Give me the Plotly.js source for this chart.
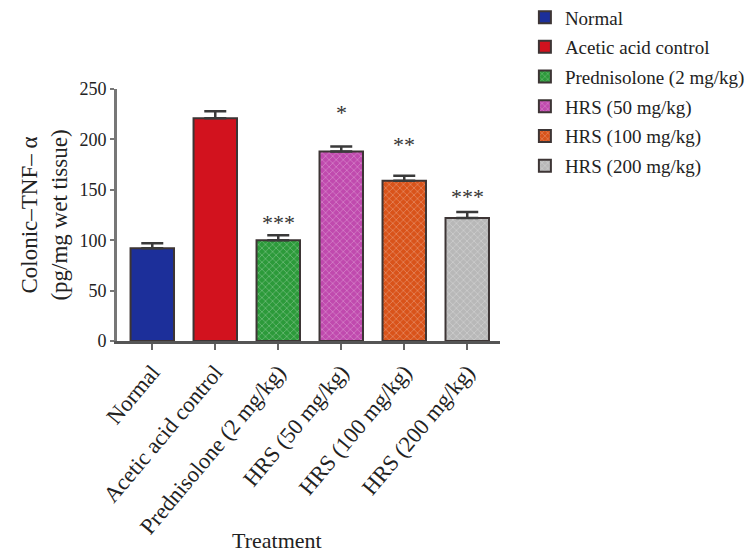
<!DOCTYPE html>
<html>
<head>
<meta charset="utf-8">
<script src="https://cdn.plot.ly/plotly-3.0.1.min.js"></script>
<style>html,body{margin:0;padding:0;background:#fff;}#chart{width:754px;height:557px;}</style>
</head>
<body>
<div id="chart"></div>
<script>
const categories = ["Normal", "Acetic acid control", "Prednisolone (2 mg/kg)", "HRS (50 mg/kg)", "HRS (100 mg/kg)", "HRS (200 mg/kg)"];
const values = [92, 221, 100, 188, 159, 122];
const errors = [5, 7, 5, 5, 5, 6];
const significance = ["", "", "***", "*", "**", "***"];
const sigHeights = [0, 0, 118, 227, 195, 143];
const colors = ["#1c2f9a", "#d2121e", "#2c9a3a", "#c04aae", "#d9531a", "#b8b8b8"];
const patterned = [false, false, true, true, true, true];
const yTicks = [0, 50, 100, 150, 200, 250];

const serif = "Liberation Serif, Times New Roman, serif";

const traces = categories.map((c, i) => ({
  type: "bar",
  name: c,
  x: [c],
  y: [values[i]],
  legendgroup: "g" + i,
  marker: {
    color: colors[i],
    line: {color: "#3d3535", width: 2},
    pattern: patterned[i]
      ? {shape: "x", size: 5, solidity: 0.25, fillmode: "replace", bgcolor: colors[i], fgcolor: "#ffffff", fgopacity: 0.35}
      : {shape: ""}
  },
  error_y: {type: "data", array: [errors[i]], symmetric: false, arrayminus: [0], color: "#3a3a3a", thickness: 2.5, width: 11},
  hoverinfo: "x+y"
}));

const annotations = categories.map((c, i) => significance[i] ? {
  x: c, y: sigHeights[i], xref: "x", yref: "y", text: significance[i], showarrow: false,
  font: {family: serif, size: 22, color: "#333"}, yanchor: "middle"
} : null).filter(a => a);

annotations.push({
  x: (277 - 117) / 383, y: -0.79, xref: "paper", yref: "paper", text: "Treatment",
  showarrow: false, font: {family: serif, size: 22, color: "#222"}, xanchor: "center", yanchor: "middle"
});

const layout = {
  width: 754, height: 557,
  margin: {l: 117, r: 254, t: 89, b: 216, autoexpand: false},
  paper_bgcolor: "#fff", plot_bgcolor: "#fff",
  bargap: 0.31,
  showlegend: true,
  legend: {
    x: 1.065, y: 1.36, xanchor: "left", yanchor: "top",
    font: {family: serif, size: 19, color: "#222"},
    traceorder: "grouped", tracegroupgap: 2,
    bgcolor: "rgba(0,0,0,0)"
  },
  xaxis: {
    type: "category",
    categoryorder: "array", categoryarray: categories,
    range: [-0.56, 5.52],
    tickangle: -50,
    showline: true, linecolor: "#555", linewidth: 3,
    ticks: "outside", ticklen: 6, tickcolor: "#666", tickwidth: 2,
    tickfont: {family: serif, size: 22.5, color: "#222"},
    showgrid: false, zeroline: false
  },
  yaxis: {
    range: [0, 250],
    tickvals: yTicks,
    showline: true, linecolor: "#777", linewidth: 3,
    ticks: "outside", ticklen: 4, tickcolor: "#777", tickwidth: 2,
    tickfont: {family: serif, size: 18, color: "#222"},
    showgrid: false, zeroline: false,
    title: {text: "Colonic–TNF– α<br>(pg/mg wet tissue)", font: {family: serif, size: 23, color: "#222"}, standoff: 6}
  },
  annotations: annotations
};

Plotly.newPlot("chart", traces, layout, {displayModeBar: false, staticPlot: true});
</script>
</body>
</html>
